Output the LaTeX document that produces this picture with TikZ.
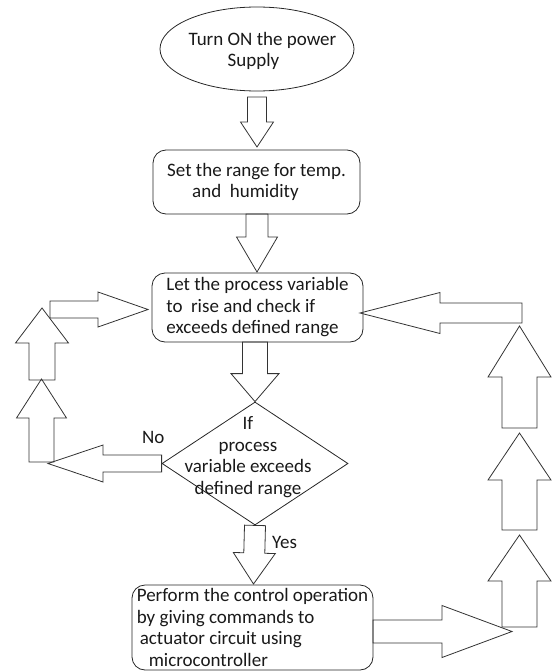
\documentclass[tikz,border=0pt]{standalone}
\usepackage{fontspec}
\setmainfont{Carlito}
\usetikzlibrary{calc,shapes.geometric}
\newcommand{\blk}[5]{%
  \path ($(#2)!#5!(#1)$) coordinate (blkbase);
  \draw[barrow] ($(#1)!#3!90:(#2)$) -- ($(blkbase)!#3!90:(#2)$) -- ($(blkbase)!#4!90:(#2)$) -- (#2)
    -- ($(blkbase)!#4!-90:(#2)$) -- ($(blkbase)!#3!-90:(#2)$) -- ($(#1)!#3!-90:(#2)$) -- cycle;}
\begin{document}
\begin{tikzpicture}[x=1pt,y=-1pt,
  txt/.style={font=\fontsize{19}{21.5}\selectfont, text=black!90},
  shapeline/.style={draw=black!85, line width=0.8pt},
  barrow/.style={draw=black!80, line width=0.8pt, line join=miter},
  rbox/.style={shapeline, txt, rounded corners=13pt, inner sep=1pt, align=left}]
\useasboundingbox (0,0) rectangle (551,671);
% shapes
\node[shapeline, ellipse, minimum width=194pt, minimum height=84pt, inner sep=0pt] (e) at (257,49) {};
\node[txt, align=left, inner sep=0pt] (et) at (262.5,51) {Turn ON the power\\\hspace*{39pt}Supply};
\node[rbox, minimum width=207pt, minimum height=64pt] (b2) at (256.5,182) {Set the range for temp.\\\hspace*{25pt}and\ \ humidity};
\node[rbox, minimum width=211pt, minimum height=69pt] (b3) at (257.5,307.5) {Let the process variable\\to\ \ rise and check if\\exceeds defined range};
\node[shapeline, diamond, minimum width=186pt, minimum height=123pt, inner sep=0pt] (d) at (255,463.5) {};
\node[txt, align=center, inner sep=0pt] (dt) at (248,457) {If\\process\\variable exceeds\\defined range};
\node[rbox, minimum width=241pt, minimum height=85pt] (b5) at (252.5,627.5) {Perform the control operation\\by giving commands to\\\hspace*{3pt}actuator circuit using\\\hspace*{12pt}microcontroller};
\node[txt, anchor=west, inner sep=0pt] (yes) at (272,542) {Yes};
\node[txt, anchor=west, inner sep=0pt] (no) at (142,437) {No};
% arrow end points
\coordinate (a1t) at (257,97);   \coordinate (a1h) at (257,147);
\coordinate (a2t) at (257,214);  \coordinate (a2h) at (257,272);
\coordinate (a3t) at (255,342);  \coordinate (a3h) at (d.north);
\coordinate (yt) at (d.south);   \coordinate (yh) at (253.5,584);
\coordinate (nt) at (d.west);    \coordinate (nh) at (48,463.5);
\coordinate (l1t) at (41.5,462); \coordinate (l1h) at (41.5,379);
\coordinate (l2t) at (42,380);   \coordinate (l2h) at (42,308);
\coordinate (l3t) at (50,309.5); \coordinate (l3h) at (148,309.5);
\coordinate (rlt) at (522,313);  \coordinate (rlh) at (360,313);
\coordinate (b5t) at (373,631.5);\coordinate (b5h) at (512,631.5);
\coordinate (r1t) at (519.5,627);\coordinate (r1h) at (519.5,535);
\coordinate (r2t) at (519.5,530);\coordinate (r2h) at (519.5,433);
\coordinate (r3t) at (519.5,428);\coordinate (r3h) at (519.5,326);
% block arrows
\blk{a1t}{a1h}{9.5pt}{16.5pt}{25pt}
\blk{a2t}{a2h}{11pt}{20.5pt}{35pt}
\blk{a3t}{a3h}{12.5pt}{24pt}{28pt}
\blk{yt}{yh}{10.5pt}{21pt}{31pt}
\blk{nt}{nh}{8.5pt}{18.5pt}{55pt}
\blk{l1t}{l1h}{12.5pt}{25pt}{39pt}
\blk{l2t}{l2h}{13pt}{26.5pt}{35pt}
\blk{l3t}{l3h}{8.5pt}{17.5pt}{50pt}
\blk{rlt}{rlh}{10pt}{20.5pt}{80pt}
\blk{b5t}{b5h}{11.5pt}{26pt}{70pt}
\blk{r1t}{r1h}{17.5pt}{31.5pt}{46pt}
\blk{r2t}{r2h}{17.5pt}{31.5pt}{47pt}
\blk{r3t}{r3h}{17.5pt}{31.5pt}{51pt}
\end{tikzpicture}
\end{document}
